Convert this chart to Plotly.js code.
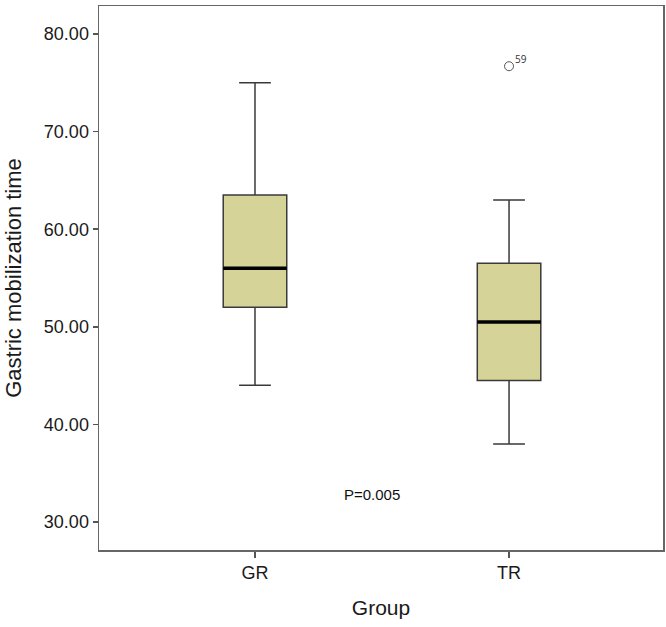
<!DOCTYPE html>
<html>
<head>
<meta charset="utf-8">
<script src="https://cdn.plot.ly/plotly-3.0.1.min.js"></script>
<style>html,body{margin:0;padding:0;background:#fff;}#chart{width:666px;height:627px;}</style>
</head>
<body>
<div id="chart"></div>
<script>
// Data
const groups = ["GR", "TR"];
const lowerWhisker = [44, 38];
const q1 = [52, 44.5];
const median = [56, 50.5];
const q3 = [63.5, 56.5];
const upperWhisker = [75, 63];
const outlierGroup = [1];
const outlierValue = [76.7];
const outlierLabel = ["59"];
const pValueText = "P=0.005";

const boxWidth = 0.25;
const pos = groups.map((g, i) => i);

const traces = [];
groups.forEach((g, i) => {
  traces.push({
    type: "box",
    name: g,
    x: [pos[i]],
    q1: [q1[i]],
    median: [median[i]],
    q3: [q3[i]],
    lowerfence: [lowerWhisker[i]],
    upperfence: [upperWhisker[i]],
    width: boxWidth,
    whiskerwidth: 0.5,
    fillcolor: "#d6d399",
    line: { color: "#3a3a3a", width: 1.5 },
    boxpoints: false,
    hoverinfo: "skip",
    showlegend: false
  });
  traces.push({
    type: "scatter",
    mode: "lines",
    x: [pos[i] - boxWidth / 2, pos[i] + boxWidth / 2],
    y: [median[i], median[i]],
    line: { color: "#000", width: 3.5 },
    hoverinfo: "skip",
    showlegend: false
  });
});

traces.push({
  type: "scatter",
  mode: "markers",
  x: outlierGroup,
  y: outlierValue,
  marker: { symbol: "circle-open", size: 9, color: "#555", line: { width: 1 } },
  hoverinfo: "skip",
  showlegend: false
});

const annotations = outlierGroup.map((g, i) => ({
  x: g, y: outlierValue[i], xref: "x", yref: "y",
  text: outlierLabel[i], showarrow: false,
  xanchor: "left", yanchor: "bottom", xshift: 4, yshift: -2,
  font: { family: "Open Sans, Noto Sans, sans-serif", size: 10, color: "#333" }
}));
annotations.push({
  x: 0.46, y: 32.8, xref: "x", yref: "y",
  text: pValueText, showarrow: false,
  font: { family: "Liberation Sans, Arial, sans-serif", size: 15, color: "#111" }
});

const layout = {
  width: 666, height: 627,
  margin: { l: 99, r: 3, t: 6, b: 77 },
  paper_bgcolor: "#fff", plot_bgcolor: "#fff",
  font: { family: "Liberation Sans, Arial, sans-serif", color: "#1a1a1a" },
  xaxis: {
    range: [-0.614, 1.606],
    tickvals: pos, ticktext: groups,
    ticks: "outside", ticklen: 6, tickcolor: "#555", tickwidth: 1.5,
    showline: true, linecolor: "#666", linewidth: 1.5, mirror: true,
    showgrid: false, zeroline: false,
    tickfont: { size: 18, color: "#1a1a1a" },
    title: { text: "Group", font: { size: 21, color: "#1a1a1a" }, standoff: 18 }
  },
  yaxis: {
    range: [27.13, 82.87],
    tickvals: [30, 40, 50, 60, 70, 80],
    tickformat: ".2f",
    ticks: "outside", ticklen: 5, tickcolor: "#555", tickwidth: 1.5,
    showline: true, linecolor: "#666", linewidth: 1.5, mirror: true,
    showgrid: false, zeroline: false,
    tickfont: { size: 18, color: "#1a1a1a" },
    title: { text: "Gastric mobilization time", font: { size: 22, color: "#1a1a1a" }, standoff: 16 }
  },
  annotations: annotations,
  showlegend: false
};

Plotly.newPlot("chart", traces, layout, { displayModeBar: false, staticPlot: true });
</script>
</body>
</html>
